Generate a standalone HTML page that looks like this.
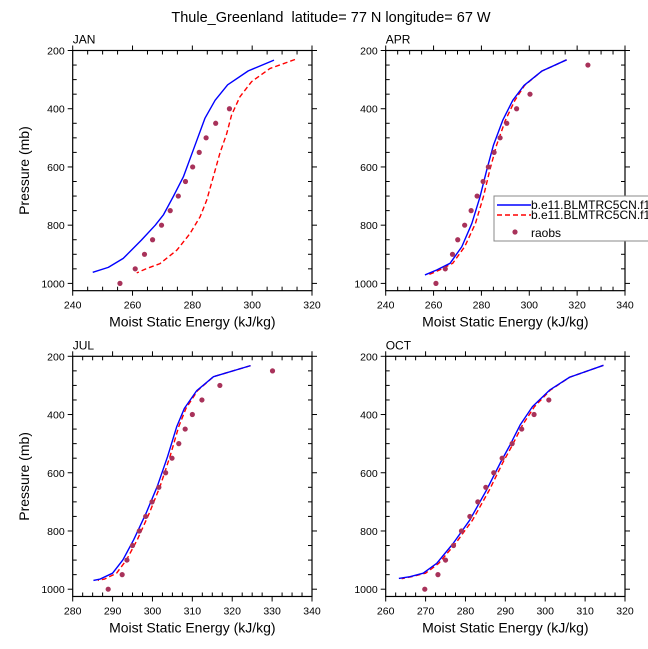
<!DOCTYPE html>
<html><head><meta charset="utf-8"><style>
html,body{margin:0;padding:0;background:#fff;}
svg{display:block;font-family:"Liberation Sans",Arial,sans-serif;}
</style></head><body>
<svg id="chart" width="648" height="649" viewBox="0 0 648 649" xmlns="http://www.w3.org/2000/svg">
<text x="331" y="22" font-size="14.5" text-anchor="middle" xml:space="preserve">Thule_Greenland  latitude= 77 N longitude= 67 W</text>
</svg>
<script>
// ---- data ----
const panelNames = ["JAN","APR","JUL","OCT"];
const xTickLabels = [[240,260,280,300,320],[240,260,280,300,320,340],[280,290,300,310,320,330,340],[260,270,280,290,300,310,320]];
const yTickLabels = [200,400,600,800,1000];
const obsP = [1000,950,900,850,800,750,700,650,600,550,500,450,400,350,300,250];
const janBlueP = [233,270,318,371,433,542,634,702,765,800,851,914,945,962];
const janBlueX = [307.3,298.7,291.8,287.6,284.2,280.3,277.0,273.6,270.3,267.6,263.0,256.9,251.9,246.7];
const janRedP = [231,262,307,359,422,485,553,634,714,771,829,886,932,949,964];
const janRedX = [314.3,305.9,299.8,295.9,293.1,291.5,289.2,287.0,284.8,282.6,279.2,274.8,269.2,264.7,261.4];
const janObs = [255.8,260.9,264.0,266.7,269.7,272.6,275.3,277.7,280.1,282.3,284.6,287.8,292.4,null,null,null];
const aprBlueP = [232,271,320,371,440,526,611,703,794,874,931,954,971];
const aprBlueX = [315.6,305.2,297.8,293.1,288.9,285.0,282.2,279.4,276.0,271.8,266.9,261.3,256.4];
const aprRedP = [232,271,320,371,440,526,611,703,794,874,931,954,970];
const aprRedX = [315.6,305.2,298.0,294.0,290.0,286.3,283.5,280.8,277.5,273.0,268.0,262.5,258.0];
const aprObs = [261.0,264.9,267.9,270.1,273.0,275.7,278.2,280.7,282.9,285.3,287.8,290.6,294.7,300.3,null,324.5];
const julBlueP = [232,270,318,379,441,544,647,739,830,899,945,965,970];
const julBlueX = [324.6,315.3,311.1,308.0,306.1,303.8,301.2,298.4,295.3,292.6,290.0,286.9,285.2];
const julRedP = [232,270,318,379,441,544,647,739,830,899,945,965,970];
const julRedX = [324.6,315.3,311.3,308.4,306.6,304.4,301.9,299.2,296.2,293.5,291.0,288.0,286.3];
const julObs = [288.9,292.4,293.6,295.0,296.7,298.3,299.9,301.6,303.3,304.9,306.6,308.2,310.0,312.4,316.9,330.1];
const octBlueP = [231,272,316,373,436,504,567,659,762,843,911,945,957,963];
const octBlueX = [314.6,306.1,301.1,296.8,293.7,291.2,288.7,285.3,281.1,276.9,272.8,269.4,266.1,263.3];
const octRedP = [231,272,316,373,436,504,567,659,762,843,911,945,957,964];
const octRedX = [314.6,306.1,301.3,297.3,294.3,291.8,289.3,286.0,281.8,277.5,273.3,270.0,266.5,264.0];
const octObs = [269.8,273.1,275.0,277.0,279.0,281.1,283.1,285.1,287.1,289.2,291.7,294.1,297.2,300.9,null,null];
const legendLabels = ["b.e11.BLMTRC5CN.f19_g16.001","b.e11.BLMTRC5CN.f19_g16.002","raobs"];

const blueP=[janBlueP,aprBlueP,julBlueP,octBlueP], blueX=[janBlueX,aprBlueX,julBlueX,octBlueX];
const redP=[janRedP,aprRedP,julRedP,octRedP], redX=[janRedX,aprRedX,julRedX,octRedX];
const obsX=[janObs,aprObs,julObs,octObs];
const boxes=[{l:72.7,r:312,t:50.5},{l:385.7,r:625,t:50.5},{l:72.7,r:312,t:356.3},{l:385.7,r:625,t:356.3}];
const NS="http://www.w3.org/2000/svg";
const svg=document.getElementById('chart');
function mk(tag,attrs,parent){const e=document.createElementNS(NS,tag);for(const k in attrs)e.setAttribute(k,attrs[k]);(parent||svg).appendChild(e);return e;}

boxes.forEach((b,i)=>{
  const xt=xTickLabels[i], xmin=xt[0], xmax=xt[xt.length-1];
  const yS=p=>b.t+(p-200)*232.9/800;
  const xS=v=>b.l+(v-xmin)/(xmax-xmin)*(b.r-b.l);
  const bottom=yS(1025);
  const g=mk('g',{});
  
  
  const fr=mk('rect',{x:b.l,y:b.t,width:b.r-b.l,height:bottom-b.t,fill:'none',stroke:'#000','stroke-width':1.2},g);
  
  
  const step=xt[1]-xt[0];
  for(let v=xmin;v<=xmax+1e-6;v+=step/4){
    const X=xS(v), maj=Math.abs((v-xmin)/step-Math.round((v-xmin)/step))<1e-6;
    mk('line',{x1:X,x2:X,y1:bottom,y2:maj?bottom+5:bottom-4,stroke:'#000','stroke-width':1},g);
    mk('line',{x1:X,x2:X,y1:b.t,y2:maj?b.t-5:b.t+4,stroke:'#000','stroke-width':1},g);
  }
  xt.forEach(v=>{const t=mk('text',{x:xS(v),y:bottom+18,'font-size':10.5,'text-anchor':'middle'},g);t.textContent=v;
    });
  for(let p=200;p<=1025;p+=50){
    const Y=yS(p), maj=p%200===0;
    mk('line',{x1:b.l,x2:maj?b.l-5:b.l+4,y1:Y,y2:Y,stroke:'#000','stroke-width':1},g);
    mk('line',{x1:b.r,x2:maj?b.r+5:b.r-4,y1:Y,y2:Y,stroke:'#000','stroke-width':1},g);
  }
  yTickLabels.forEach(p=>{const t=mk('text',{x:b.l-8,y:yS(p)+4,'font-size':10.5,'text-anchor':'end'},g);t.textContent=p;
    });
  const pl=mk('text',{x:b.l,y:b.t-7,'font-size':12},g);pl.textContent=panelNames[i];
  
  const xt2=mk('text',{x:(b.l+b.r)/2,y:bottom+36,'font-size':14,'text-anchor':'middle'},g);xt2.textContent='Moist Static Energy (kJ/kg)';
  
  if(i%2===0){const yt=mk('text',{x:0,y:0,'font-size':14,'text-anchor':'middle',transform:`translate(29,${(b.t+bottom)/2}) rotate(-90)`},g);yt.textContent='Pressure (mb)';
    }
  const rp=mk('polyline',{points:redP[i].map((p,k)=>xS(redX[i][k])+','+yS(p)).join(' '),fill:'none',stroke:'#ff0000','stroke-width':1.4,'stroke-dasharray':'5,3','stroke-linejoin':'round'},g);
  
  const bp=mk('polyline',{points:blueP[i].map((p,k)=>xS(blueX[i][k])+','+yS(p)).join(' '),fill:'none',stroke:'#0000ff','stroke-width':1.4,'stroke-linejoin':'round'},g);
  
  obsX[i].forEach((v,k)=>{if(v===null)return;const c=mk('circle',{cx:xS(v),cy:yS(obsP[k]),r:2.6,fill:'#a8325a'},g);
    });
});
const lg=mk('g',{});


mk('rect',{x:494,y:196,width:160,height:45,fill:'#fff',stroke:'#888','stroke-width':1},lg);
const rowsY=[205,215,233];
const e1=mk('line',{x1:497,x2:531,y1:rowsY[0],y2:rowsY[0],stroke:'#0000ff','stroke-width':1.4},lg);

const e2=mk('line',{x1:497,x2:531,y1:rowsY[1],y2:rowsY[1],stroke:'#ff0000','stroke-width':1.4,'stroke-dasharray':'5,3'},lg);

const e3=mk('circle',{cx:515,cy:rowsY[2]-1,r:2.6,fill:'#a8325a'},lg);

legendLabels.forEach((s,k)=>{const t=mk('text',{x:531,y:rowsY[k]+4,'font-size':12},lg);t.textContent=s;
  });
</script>
</body></html>
